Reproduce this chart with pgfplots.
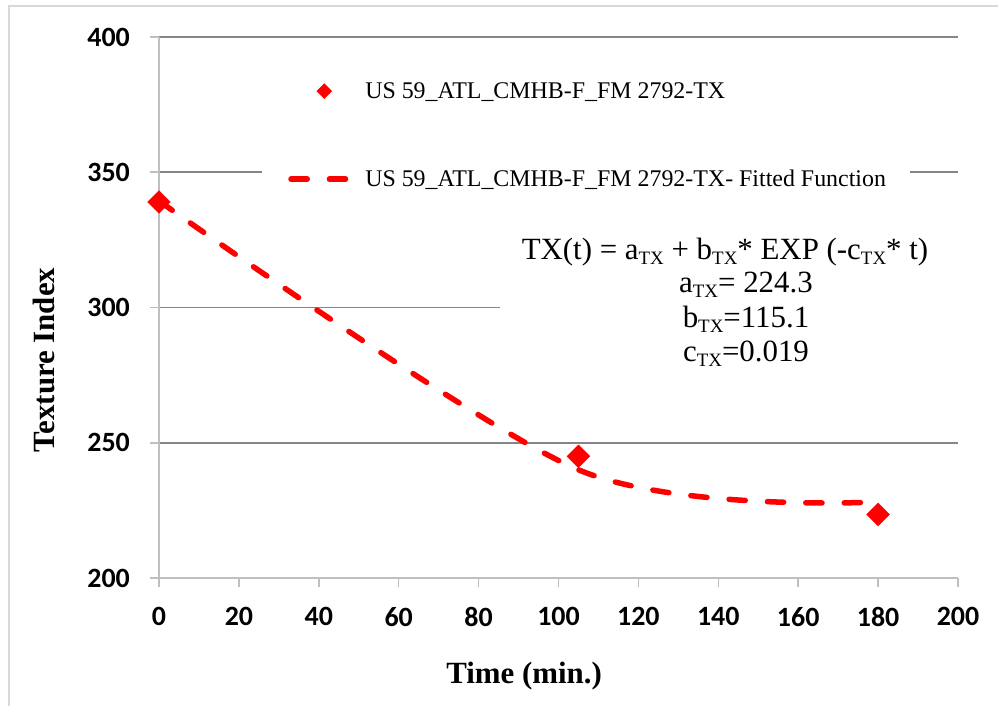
\documentclass[border=0pt]{standalone}
\usepackage{pgfplots}
\pgfplotsset{compat=1.18}
\usepackage{fontspec}
\setmainfont{Liberation Serif}
\newfontfamily\calibri{Carlito}
\definecolor{gridc}{HTML}{868686}
\definecolor{axc}{HTML}{BFBFBF}
\definecolor{framec}{HTML}{D9D9D9}
\newcommand\sub[1]{\raisebox{-5bp}{\fontsize{19}{19}\selectfont #1}}
\begin{document}
\begin{tikzpicture}
\useasboundingbox (-159bp,-128bp) rectangle (839bp,578bp);
\fill[white] (-159bp,-128bp) rectangle (839bp,578bp);
\draw[framec, line width=1.5bp] (-150bp,-130bp) -- (-150bp,572bp) -- (842bp,572bp);
\begin{axis}[
  at={(0,0)}, anchor=south west,
  scale only axis, width=799bp, height=541bp,
  xmin=0, xmax=200, ymin=200, ymax=400,
  xtick={0,20,...,200}, ytick={200,250,...,400},
  axis x line*=bottom, axis y line*=left,
  axis line style={axc, line width=1.5bp, -},
  ymajorgrids, grid style={gridc, line width=1.5bp},
  tick align=outside, major tick length=9bp,
  tick style={axc, line width=1.5bp},
  ticklabel style={font=\calibri\bfseries\fontsize{28}{28}\selectfont},
  /pgf/number format/assume math mode=true,
  xticklabel style={inner sep=0pt, anchor=north, yshift=-20bp},
  yticklabel style={inner sep=0pt, anchor=east, xshift=-20bp},
  xlabel={Time (min.)}, ylabel={Texture Index},
  label style={font=\bfseries\fontsize{31}{31}\selectfont, inner sep=0pt},
  xlabel style={at={(axis description cs:0.457,-0.1941)}, anchor=base},
  ylabel style={at={(axis description cs:-0.1302,0.403)}, anchor=base},
  legend style={at={(axis description cs:0.129,0.941)}, anchor=north west,
    draw=none, fill=white, inner xsep=24bp, inner ysep=12bp,
    font=\fontsize{24}{24}\selectfont, nodes={inner sep=0pt},
    row sep=68bp, /tikz/every odd column/.append style={column sep=17bp}},
  legend cell align=left,
]
\addplot[only marks, mark=square*, mark size=8.1bp, mark options={rotate=45}, red, fill=red,
  legend image code/.code={\path[draw=none, fill=none] (0,-10bp) rectangle (62bp,10bp);
    \path[draw=red, fill=red, mark=square*, mark size=5.3bp, mark options={rotate=45}] plot[mark=square*] coordinates {(38bp,0)};}]
  coordinates {(0,339) (105,245) (180,223.5)};
\addlegendentry{US 59\_ATL\_CMHB-F\_FM 2792-TX}
\addplot[red, line width=5.5bp, dash pattern=on 16.2bp off 22.2bp, line cap=round, smooth,
  legend image code/.code={\path[draw=none, fill=none] (0,-10bp) rectangle (62bp,10bp);
    \draw[red, line width=5.5bp, dash pattern=on 16.2bp off 22.2bp, line cap=round] (4.75bp,0) -- (59.25bp,0);}]
  coordinates {(0,339.4) (105,240.0) (180,228.1)};
\addlegendentry{US 59\_ATL\_CMHB-F\_FM 2792-TX- Fitted Function}
\end{axis}
\fill[white] (341bp,198bp) rectangle (805bp,353bp);
\begin{scope}[every node/.style={anchor=base, inner sep=0pt, font=\fontsize{31}{31}\selectfont}]
\node at (566bp,318bp) {TX(t) = a\sub{TX} + b\sub{TX}* EXP (-c\sub{TX}* t)};
\node at (587bp,285bp) {a\sub{TX}= 224.3};
\node at (587bp,250bp) {b\sub{TX}=115.1};
\node at (587bp,216bp) {c\sub{TX}=0.019};
\end{scope}
\end{tikzpicture}
\end{document}
